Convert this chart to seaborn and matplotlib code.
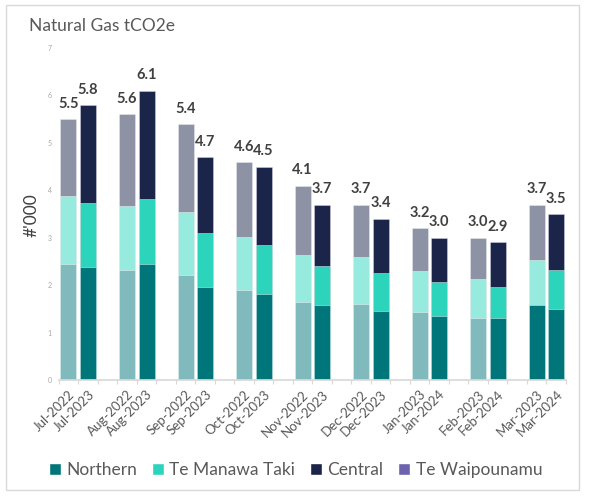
import matplotlib.pyplot as plt
import numpy as np
import pandas as pd
import seaborn as sns
from matplotlib.colors import to_rgb, to_hex
from matplotlib.patches import Patch, Rectangle

# 데이터 (단위: '000 tCO2e) - 전년도 / 당해연도 월별 비교
prev_labels = ["Jul-2022", "Aug-2022", "Sep-2022", "Oct-2022", "Nov-2022",
               "Dec-2022", "Jan-2023", "Feb-2023", "Mar-2023"]
curr_labels = ["Jul-2023", "Aug-2023", "Sep-2023", "Oct-2023", "Nov-2023",
               "Dec-2023", "Jan-2024", "Feb-2024", "Mar-2024"]

northern_prev = [2.44, 2.31, 2.22, 1.90, 1.65, 1.60, 1.43, 1.31, 1.58]
northern_curr = [2.38, 2.45, 1.97, 1.81, 1.58, 1.45, 1.34, 1.31, 1.50]
tmt_prev = [1.43, 1.36, 1.32, 1.12, 0.98, 0.99, 0.87, 0.83, 0.94]
tmt_curr = [1.35, 1.37, 1.12, 1.04, 0.83, 0.80, 0.73, 0.66, 0.82]
central_prev = [1.63, 1.93, 1.86, 1.58, 1.47, 1.11, 0.90, 0.86, 1.18]
central_curr = [2.07, 2.28, 1.61, 1.65, 1.29, 1.15, 0.93, 0.93, 1.18]
waipounamu_prev = [0, 0, 0, 0, 0, 0, 0, 0, 0]
waipounamu_curr = [0, 0, 0, 0, 0, 0, 0, 0, 0]

regions = ["Northern", "Te Manawa Taki", "Central", "Te Waipounamu"]
colors = {"Northern": "#00757A", "Te Manawa Taki": "#2DD4BC",
          "Central": "#1B2449", "Te Waipounamu": "#6D63AD"}


def fade(c, amount=0.5):
    r = np.array(to_rgb(c))
    return to_hex(r * (1 - amount) + amount)


# 슬롯 구성: 전년도, 당해연도, 빈칸 반복 (마지막 빈칸 제외)
rows = []
slot_keys = []
for i, (p, c) in enumerate(zip(prev_labels, curr_labels)):
    for lab, is_prev, vals in [
        (p, True, (northern_prev[i], tmt_prev[i], central_prev[i], waipounamu_prev[i])),
        (c, False, (northern_curr[i], tmt_curr[i], central_curr[i], waipounamu_curr[i])),
    ]:
        slot_keys.append(lab)
        cum = np.cumsum(vals)
        for reg, top in zip(regions, cum):
            rows.append({"slot": lab, "region": reg, "top": top, "prev": is_prev})
    if i < len(prev_labels) - 1:
        slot_keys.append(f"gap{i}")
df = pd.DataFrame(rows)

sns.set_theme(style="white")
plt.rcParams["font.family"] = ["Lato", "DejaVu Sans"]

fig = plt.figure(figsize=(5.89, 4.98), dpi=100)
ax = fig.add_axes([58.7 / 589, 118 / 498, 507.3 / 589, 332 / 498])

# 위 레이어부터 그려서 누적 막대 표현
for reg in reversed(regions):
    sub = df[df["region"] == reg]
    pal = {}
    for _, r in sub.iterrows():
        faded = r["prev"] and not (reg == "Northern" and r["slot"] == "Mar-2023")
        pal[r["slot"]] = fade(colors[reg]) if faded else colors[reg]
    sns.barplot(data=sub, x="slot", y="top", hue="slot", palette=pal, order=slot_keys,
                dodge=False, legend=False, saturation=1, width=0.82,
                edgecolor=(1, 1, 1, 0.6), linewidth=0.5, ax=ax)

# 합계 라벨
totals = df.groupby("slot")["top"].max()
for lab, tot in totals.items():
    ax.annotate(f"{tot:.1f}", (slot_keys.index(lab), tot), xytext=(0, 11),
                textcoords="offset points", ha="center", va="center",
                fontsize=10.5, fontweight="bold", color="#404040")

ax.set_ylim(0, 7)
ax.set_yticks(range(0, 8))
ax.tick_params(axis="y", labelsize=5, labelcolor="#A6A6A6", length=0, pad=5)
real_idx = [i for i, k in enumerate(slot_keys) if not k.startswith("gap")]
ax.set_xticks(real_idx)
ax.set_xticklabels([slot_keys[i] for i in real_idx], rotation=45, ha="right",
                   rotation_mode="anchor", fontsize=9.5, color="#595959")
ax.set_xticks(np.arange(-0.5, len(slot_keys)), minor=True)
ax.tick_params(axis="x", which="major", length=0, pad=6)
ax.tick_params(axis="x", which="minor", length=3, width=0.8, color="#D9D9D9", bottom=True)
ax.set_xlabel("")
ax.set_ylabel("")
for s in ["top", "right", "left"]:
    ax.spines[s].set_visible(False)
ax.spines["bottom"].set_color("#D9D9D9")
ax.grid(False)

fig.text(32 / 589, 1 - 215 / 498, "#'000", rotation=90, ha="center", va="center",
         fontsize=12.5, color="#404040")
fig.text(29 / 589, 1 - 26 / 498, "Natural Gas tCO2e", ha="left", va="center",
         fontsize=12.5, color="#595959")

handles = [Patch(facecolor=colors[r], label=r) for r in regions]
fig.legend(handles=handles, loc="center", bbox_to_anchor=(0.502, 1 - 470 / 498), ncol=4,
           frameon=False, fontsize=12.5, handlelength=0.7, handleheight=0.7,
           handletextpad=0.3, columnspacing=0.85, labelcolor="#595959")

fig.patches.append(Rectangle((6 / 589, 8 / 498), 573 / 589, 485 / 498, transform=fig.transFigure,
                             fill=False, edgecolor="#D9D9D9", linewidth=1))

fig.savefig("out.png", dpi=100)
